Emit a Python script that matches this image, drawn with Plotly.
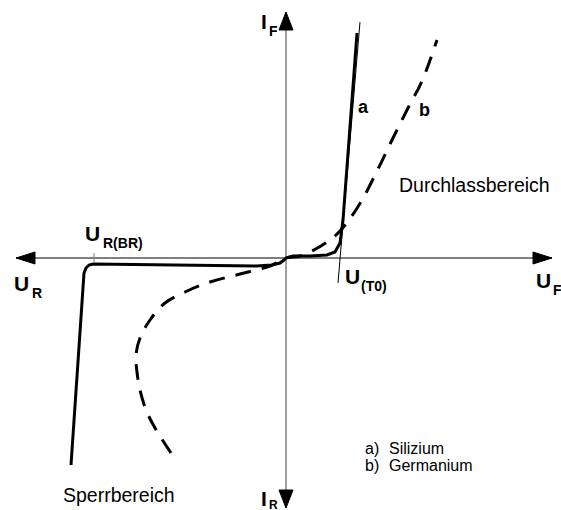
import plotly.graph_objects as go

# ---- data (drawing units: U to the right, I upwards, origin at axis crossing) ----
# a) Silizium characteristic
U_si = [-215, -203, -202, -200, -197, -193, -30, -14, -6, -2, 0, 7, 24, 41, 49, 54, 56, 57, 71]
I_si = [-207, -20, -15, -10, -7, -6, -8, -7, -5, -2, 0, 2, 2, 3, 6, 15, 28, 38, 225]

# b) Germanium characteristic
U_ge = [-115, -131, -140, -146, -149, -150, -146, -136, -121, -101, -76, -46, -16, 0,
        14, 35, 49, 60, 76, 92, 107, 122, 136, 151]
I_ge = [-195, -170, -152, -132, -114, -97, -80, -62, -45, -34, -24, -16, -8, 0,
        2, 12, 22, 34, 58, 89, 120, 150, 177, 218]

# tangent line defining the threshold voltage U(T0)
U_t0 = [52, 74]
I_t0 = [-25, 236]

# breakdown voltage marker U_R(BR)
U_br = [-192, -192]
I_br = [5, -4]

# axis extents (arrow tips)
U_axis = [-270, 266]
I_axis = [246, -250]

# ---- figure ----
W, H = 561, 510
X0, Y0 = 286, 258  # pixel position of origin
FONT = "Liberation Sans, Arial, sans-serif"

fig = go.Figure()

# horizontal axis (U)
fig.add_trace(go.Scatter(x=U_axis, y=[0, 0], mode="lines",
                         line=dict(color="black", width=1), hoverinfo="skip"))
# vertical axis (I)
fig.add_trace(go.Scatter(x=[0, 0], y=I_axis, mode="lines",
                         line=dict(color="#7f7f7f", width=1.5), hoverinfo="skip"))

# arrowheads built from axis tips
HL, HW = 19, 6
for tip, d in [(U_axis[0], 1), (U_axis[1], -1)]:
    fig.add_trace(go.Scatter(x=[tip, tip + d * HL, tip + d * HL, tip],
                             y=[0, HW, -HW, 0], mode="lines", fill="toself",
                             fillcolor="black", line=dict(color="black", width=1),
                             hoverinfo="skip"))
VL, VW = 18, 7
for tip, d in [(I_axis[0], -1), (I_axis[1], 1)]:
    fig.add_trace(go.Scatter(x=[0, VW, -VW, 0], y=[tip, tip + d * VL, tip + d * VL, tip],
                             mode="lines", fill="toself", fillcolor="black",
                             line=dict(color="black", width=1), hoverinfo="skip"))

# tangent and breakdown tick
fig.add_trace(go.Scatter(x=U_t0, y=I_t0, mode="lines",
                         line=dict(color="black", width=1), hoverinfo="skip"))
fig.add_trace(go.Scatter(x=U_br, y=I_br, mode="lines",
                         line=dict(color="#7f7f7f", width=1), hoverinfo="skip"))

# characteristics
fig.add_trace(go.Scatter(x=U_ge, y=I_ge, mode="lines", line_shape="spline",
                         line=dict(color="black", width=3, dash="16px,11px"),
                         hoverinfo="skip"))
fig.add_trace(go.Scatter(x=U_si, y=I_si, mode="lines",
                         line=dict(color="black", width=3), hoverinfo="skip"))


def px(x, y):
    return x - X0, Y0 - y


def label(text, xpx, baseline, size, bold=False):
    # position given by left edge and baseline (pixels)
    x, y = px(xpx, baseline - 0.3 * size)
    fig.add_annotation(x=x, y=y, text=("<b>%s</b>" % text) if bold else text,
                       showarrow=False, xanchor="left", yanchor="middle",
                       font=dict(family=FONT, size=size, color="black"))


def symbol(main, sub, xpx, baseline, xsub, subbase, size=21, subsize=14):
    label(main, xpx, baseline, size, bold=True)
    label(sub, xsub, subbase, subsize, bold=True)


symbol("I", "F", 259, 28, 267, 35)
symbol("I", "R", 259, 505, 267, 509, subsize=12)
symbol("U", "R", 12, 290, 30, 297)
symbol("U", "F", 534, 287, 551, 294)
symbol("U", "R(BR)", 83, 240, 101, 247)
symbol("U", "(T0)", 343, 283, 359, 290)

label("Durchlassbereich", 397, 190.5, 19.5)
label("Sperrbereich", 61, 500.7, 19.5)
label("a", 356, 112, 18, bold=True)
label("b", 417, 115, 18, bold=True)
label("a)", 363, 453, 16)
label("Silizium", 387, 453, 16)
label("b)", 363, 470, 16)
label("Germanium", 387, 470, 16)

fig.update_layout(
    width=W, height=H, margin=dict(l=0, r=0, t=0, b=0),
    paper_bgcolor="white", plot_bgcolor="white", showlegend=False,
    xaxis=dict(range=[-X0, W - X0], visible=False, fixedrange=True),
    yaxis=dict(range=[Y0 - H, Y0], visible=False, fixedrange=True),
)
fig.write_html("out.html", config={"displayModeBar": False},
               post_script="document.body.style.margin='0';document.body.style.overflow='hidden';")
